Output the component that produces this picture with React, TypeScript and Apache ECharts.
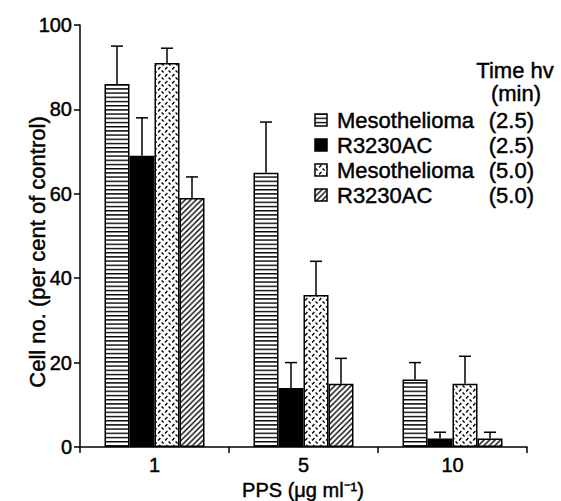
import React, { useEffect, useRef } from 'react';
import * as echarts from 'echarts';

const categories = ['1', '5', '10'];
const seriesNames = ['Mesothelioma (2.5)', 'R3230AC (2.5)', 'Mesothelioma (5.0)', 'R3230AC (5.0)'];
const legendCells = ['Mesothelioma', 'R3230AC', 'Mesothelioma', 'R3230AC'];
const legendTimes = ['(2.5)', '(2.5)', '(5.0)', '(5.0)'];
const meso25 = [86, 65, 16];
const meso25Err = [95, 77, 20];
const r25 = [69, 14, 2];
const r25Err = [78, 20, 3.5];
const meso50 = [91, 36, 15];
const meso50Err = [94.5, 44, 21.5];
const r50 = [59, 15, 2];
const r50Err = [64, 21, 3.5];
const yMin = 0;
const yMax = 100;
const yInterval = 20;
const xAxisTitle = 'PPS (μg ml⁻¹)';
const yAxisTitle = 'Cell no. (per cent of control)';

const FONT = 'Liberation Sans';
const BORDER = 0.45;

function svgPattern(body: string, w: number, h: number) {
  const svg = `<svg xmlns='http://www.w3.org/2000/svg' width='${w}' height='${h}' viewBox='0 0 ${w} ${h}'>${body}</svg>`;
  return {
    image: 'data:image/svg+xml;charset=utf-8,' + encodeURIComponent(svg),
    repeat: 'repeat',
    imageWidth: w,
    imageHeight: h,
  };
}

const hLines = svgPattern(
  "<rect width='8' height='4.2' fill='white'/><rect y='0' width='8' height='1.4' fill='black'/>",
  8,
  4.2
);
const dots = svgPattern(
  "<rect width='7' height='7' fill='white'/><path d='M0.6 0.6L2.6 2.6M4.1 6.4L6.4 4.1' stroke='black' stroke-width='1.4' fill='none'/>",
  7,
  7
);
const hatch = svgPattern(
  "<rect width='5.5' height='5.5' fill='white'/><path d='M-1 1L1 -1M0 5.5L5.5 0M4.5 6.5L6.5 4.5' stroke='black' stroke-width='1.4' fill='none'/>",
  5.5,
  5.5
);

const fills: any[] = [hLines, '#000', dots, hatch];
const values = [meso25, r25, meso50, r50];
const errs = [meso25Err, r25Err, meso50Err, r50Err];

const BAR_W = 25;

export default function App() {
  const ref = useRef<HTMLDivElement>(null);
  useEffect(() => {
    if (!ref.current) return;
    const chart = echarts.init(ref.current, null, { renderer: 'svg' });
    const barSeries = values.map((v, i) => ({
      name: seriesNames[i],
      type: 'bar',
      data: v,
      barWidth: BAR_W,
      barGap: '0%',
      itemStyle: { color: fills[i], borderColor: '#000', borderWidth: 1.5 },
      z: 2,
    }));
    const errSeries = values.map((v, i) => ({
      name: seriesNames[i] + ' err',
      type: 'custom',
      data: v.map((val, c) => [c, val, errs[i][c]]),
      z: 3,
      renderItem: (params: any, api: any) => {
        const c = api.value(0);
        const base = api.coord([c, api.value(1)]);
        const top = api.coord([c, api.value(2)]);
        const x = base[0] + (i - 1.5) * BAR_W;
        const st = { stroke: '#000', lineWidth: 1.5 };
        return {
          type: 'group',
          children: [
            { type: 'line', shape: { x1: x, y1: base[1], x2: x, y2: top[1] }, style: st },
            { type: 'line', shape: { x1: x - 6, y1: top[1], x2: x + 6, y2: top[1] }, style: st },
          ],
        };
      },
    }));

    const txt = (size: number) => ({
      fontSize: size,
      fontFamily: FONT,
      fill: '#000',
      stroke: '#000',
      lineWidth: BORDER,
    });
    const axTxt = (size: number) => ({
      fontSize: size,
      fontFamily: FONT,
      color: '#000',
      textBorderColor: '#000',
      textBorderWidth: BORDER,
    });

    const graphics: any[] = [
      {
        type: 'text',
        x: 37,
        y: 252,
        rotation: Math.PI / 2,
        style: { ...txt(22), text: yAxisTitle, textAlign: 'center', textVerticalAlign: 'middle' },
      },
      {
        type: 'text',
        x: 303,
        y: 490,
        style: { ...txt(20), text: xAxisTitle, textAlign: 'center', textVerticalAlign: 'middle' },
      },
      {
        type: 'text',
        x: 515,
        y: 70,
        style: { ...txt(22), text: 'Time hv', textAlign: 'center', textVerticalAlign: 'middle' },
      },
      {
        type: 'text',
        x: 516,
        y: 93,
        style: { ...txt(22), text: '(min)', textAlign: 'center', textVerticalAlign: 'middle' },
      },
    ];
    legendCells.forEach((name, i) => {
      const cy = 120 + i * 25;
      graphics.push({
        type: 'rect',
        shape: { x: 315, y: cy - 6, width: 12, height: 12 },
        style: { fill: fills[i], stroke: '#000', lineWidth: 1.5 },
      });
      graphics.push({
        type: 'text',
        x: 337,
        y: cy,
        style: { ...txt(22), text: name, textAlign: 'left', textVerticalAlign: 'middle' },
      });
      graphics.push({
        type: 'text',
        x: 534,
        y: cy,
        style: { ...txt(22), text: legendTimes[i], textAlign: 'right', textVerticalAlign: 'middle' },
      });
    });

    chart.setOption({
      animation: false,
      backgroundColor: '#fff',
      grid: { left: 80, right: 34, top: 25, bottom: 54, containLabel: false, outerBoundsMode: 'none' },
      xAxis: {
        type: 'category',
        data: categories,
        axisLine: { lineStyle: { color: '#000', width: 1.5 } },
        axisTick: { show: true, length: 6, alignWithLabel: false, lineStyle: { color: '#000', width: 1.5 } },
        axisLabel: { ...axTxt(20), margin: 8 },
        splitLine: { show: false },
      },
      yAxis: {
        type: 'value',
        min: yMin,
        max: yMax,
        interval: yInterval,
        axisLine: { show: true, lineStyle: { color: '#000', width: 1.5 } },
        axisTick: { show: true, length: 6, lineStyle: { color: '#000', width: 1.5 } },
        axisLabel: { ...axTxt(20), margin: 8 },
        splitLine: { show: false },
      },
      graphic: graphics,
      series: [...barSeries, ...errSeries],
    } as any);
    return () => chart.dispose();
  }, []);
  return <div ref={ref} style={{ position: 'fixed', left: 0, top: 0, width: 561, height: 501 }} />;
}
